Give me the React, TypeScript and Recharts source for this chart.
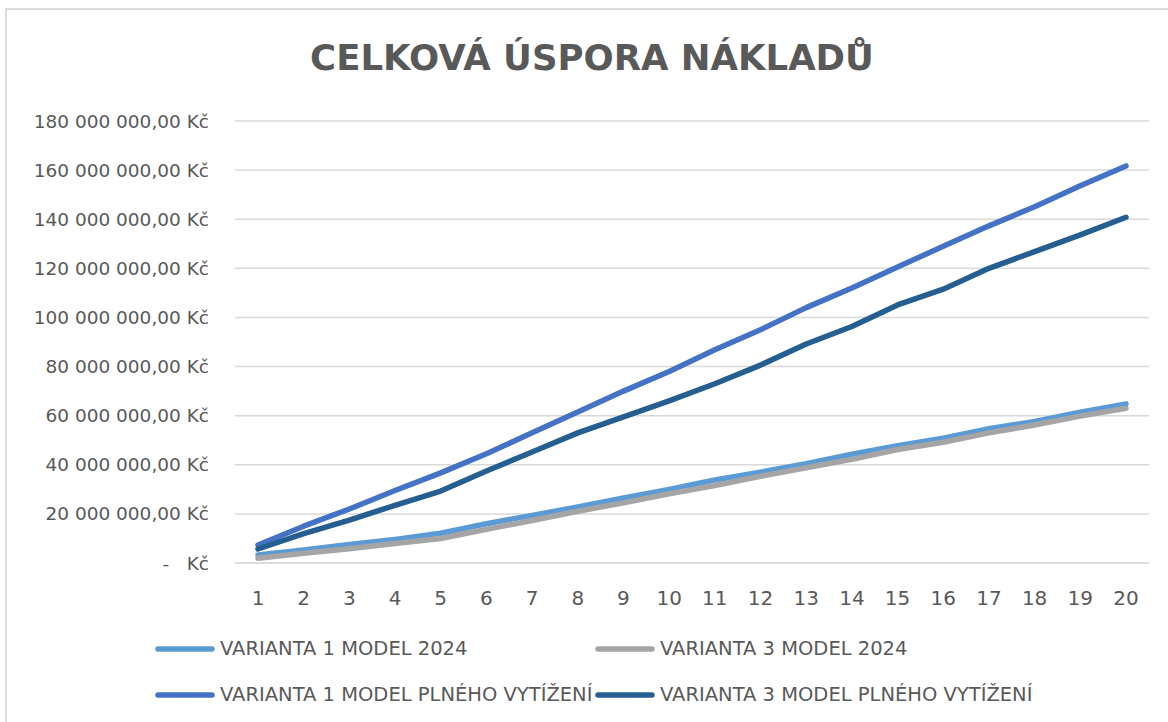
import { CartesianGrid, Legend, Line, LineChart, XAxis, YAxis } from 'recharts';

const years = ['1', '2', '3', '4', '5', '6', '7', '8', '9', '10', '11', '12', '13', '14', '15', '16', '17', '18', '19', '20'];

// values in Kč
const v1Model2024 = [3.3, 5.3, 7.5, 9.6, 12.1, 16.0, 19.4, 22.8, 26.5, 30.0, 33.8, 37.0, 40.4, 44.3, 47.8, 50.8, 54.7, 57.6, 61.4, 64.8].map((v) => v * 1e6);
const v3Model2024 = [1.9, 4.0, 5.8, 7.9, 10.0, 13.7, 17.3, 21.1, 24.5, 28.2, 31.5, 35.3, 38.8, 42.2, 46.2, 49.2, 53.0, 56.2, 59.8, 63.0].map((v) => v * 1e6);
const v1Full = [7.3, 15.0, 22.0, 29.5, 36.7, 44.5, 53.0, 61.5, 70.0, 78.0, 86.8, 95.0, 104.0, 112.0, 120.5, 129.0, 137.3, 145.1, 153.6, 161.7].map((v) => v * 1e6);
const v3Full = [5.7, 12.0, 17.5, 23.5, 29.3, 37.5, 45.2, 53.0, 59.5, 66.0, 73.0, 80.6, 89.2, 96.3, 105.1, 111.5, 120.0, 126.8, 133.6, 140.8].map((v) => v * 1e6);

const yTicks = [0, 20e6, 40e6, 60e6, 80e6, 100e6, 120e6, 140e6, 160e6, 180e6];

const series = [
  { key: 'v1_2024', name: 'VARIANTA 1 MODEL 2024', color: '#5B9BD5', values: v1Model2024 },
  { key: 'v3_2024', name: 'VARIANTA 3 MODEL 2024', color: '#A5A5A5', values: v3Model2024 },
  { key: 'v1_full', name: 'VARIANTA 1 MODEL PLNÉHO VYTÍŽENÍ', color: '#4472C4', values: v1Full },
  { key: 'v3_full', name: 'VARIANTA 3 MODEL PLNÉHO VYTÍŽENÍ', color: '#255E91', values: v3Full },
];

const data = years.map((year, i) => {
  const row: Record<string, string | number> = { year };
  series.forEach((s) => (row[s.key] = s.values[i]));
  return row;
});

const FONT = '"DejaVu Sans", sans-serif';
const TEXT = '#595959';

function formatKc(v: number) {
  if (v === 0) return '-\u00a0\u00a0\u00a0Kč';
  const s = Math.round(v).toString().replace(/\B(?=(\d{3})+(?!\d))/g, '\u00a0');
  return `${s},00\u00a0Kč`;
}

function LegendBox({ payload }: any) {
  // keep the series order (recharts sorts the payload by name)
  const items = series
    .map((s) => (payload || []).find((p: any) => p.dataKey === s.key))
    .filter(Boolean);
  return (
    <div style={{ display: 'grid', gridTemplateColumns: '440px 440px', rowGap: 19, fontFamily: FONT, fontSize: 19.5, color: TEXT }}>
      {items.map((p: any) => (
        <div key={p.value} style={{ display: 'flex', alignItems: 'center', height: 27, whiteSpace: 'nowrap' }}>
          <svg width={60} height={10} style={{ marginRight: 5 }}>
            <line x1={3} y1={5} x2={57} y2={5} stroke={p.color} strokeWidth={5.5} strokeLinecap="round" />
          </svg>
          <span>{p.value}</span>
        </div>
      ))}
    </div>
  );
}

export default function App() {
  return (
    <div style={{ position: 'fixed', left: 0, top: 0, width: 1168, height: 722, overflow: 'hidden', background: '#fff' }}>
      <div style={{ position: 'absolute', left: 5, top: 8, width: 1300, height: 900, border: '2px solid #dcdcdc' }} />
      <div
        style={{
          position: 'absolute',
          left: 0,
          width: 1184,
          top: 37,
          textAlign: 'center',
          fontFamily: FONT,
          fontWeight: 'bold',
          fontSize: 35.5,
          color: TEXT,
        }}
      >
        CELKOVÁ ÚSPORA NÁKLADŮ
      </div>
      <LineChart
        width={1168}
        height={722}
        data={data}
        margin={{ top: 121, right: 19, bottom: 119, left: 0 }}
        style={{ position: 'absolute', left: 0, top: 0 }}
      >
        <CartesianGrid vertical={false} stroke="#d9d9d9" strokeWidth={1.5} />
        <XAxis
          dataKey="year"
          height={40}
          padding={{ left: 23, right: 23 }}
          axisLine={{ stroke: '#d9d9d9', strokeWidth: 1.5 }}
          tickLine={false}
          tickMargin={22}
          tick={{ fill: TEXT, fontSize: 20, fontFamily: FONT }}
          interval={0}
        />
        <YAxis
          width={235}
          domain={[0, 180e6]}
          ticks={yTicks}
          axisLine={false}
          tickLine={false}
          tickSize={0}
          tickMargin={26}
          tickFormatter={formatKc}
          tick={{ fill: TEXT, fontSize: 18.5, fontFamily: FONT }}
        />
        <Legend
          verticalAlign="middle"
          align="center"
          layout="horizontal"
          content={<LegendBox />}
          wrapperStyle={{ left: 155, top: 635, width: 900 }}
        />
        {series.map((s) => (
          <Line
            key={s.key}
            dataKey={s.key}
            name={s.name}
            type="linear"
            stroke={s.color}
            strokeWidth={5.5}
            strokeLinecap="round"
            strokeLinejoin="round"
            dot={false}
            activeDot={false}
            isAnimationActive={false}
          />
        ))}
      </LineChart>
    </div>
  );
}
